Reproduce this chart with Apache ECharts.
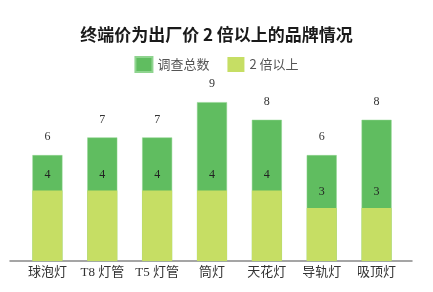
<!DOCTYPE html>
<html><head><meta charset="utf-8">
<script src="https://cdn.jsdelivr.net/npm/echarts@6/dist/echarts.min.js"></script>
<style>html,body{margin:0;padding:0;background:#fff}#c{width:433px;height:292px}</style>
</head><body><div id="c"></div>
<script>
var categories = ['球泡灯', 'T8 灯管', 'T5 灯管', '筒灯', '天花灯', '导轨灯', '吸顶灯'];
var totalValues = [6, 7, 7, 9, 8, 6, 8];
var doubleValues = [4, 4, 4, 4, 4, 3, 3];
var seriesNames = ['调查总数', '2 倍以上'];

var chart = echarts.init(document.getElementById('c'));
var serif = "'Liberation Serif','DejaVu Serif','Noto Sans CJK SC',serif";
chart.setOption({
  animation: false,
  title: {
    text: '终端价为出厂价 2 倍以上的品牌情况',
    left: 'center', top: 21,
    textStyle: {fontSize: 17, fontWeight: 'bold', color: '#1a1a1a', fontFamily: "'Noto Sans CJK SC',sans-serif"}
  },
  legend: {
    top: 51, left: 'center',
    itemWidth: 17, itemHeight: 15, itemGap: 18,
    icon: 'rect',
    textStyle: {fontSize: 13, color: '#555', fontFamily: "'Noto Sans CJK SC',sans-serif"},
    data: seriesNames
  },
  grid: [
    {left: 20, right: 29, top: 84.5, bottom: 31},
    {left: 10, right: 21, top: 84.5, bottom: 31}
  ],
  xAxis: [
    {
      type: 'category', data: categories, gridIndex: 0,
      axisTick: {show: false},
      axisLine: {show: false},
      axisLabel: {interval: 0, fontSize: 13, color: '#333', margin: 5, fontFamily: serif}
    },
    {
      type: 'value', gridIndex: 1, min: 0, max: 1,
      axisTick: {show: false}, axisLabel: {show: false}, splitLine: {show: false},
      axisLine: {show: true, lineStyle: {color: '#888', width: 1.5}}
    }
  ],
  yAxis: [
    {type: 'value', min: 0, max: 10, show: false, splitLine: {show: false}, gridIndex: 0},
    {type: 'value', min: 0, max: 1, show: false, splitLine: {show: false}, gridIndex: 1}
  ],
  series: [
    {
      name: seriesNames[0], type: 'bar', data: totalValues, barWidth: 30, z: 3,
      itemStyle: {color: '#60BD60', borderColor: '#8fd48f', borderWidth: 0.5},
      label: {show: true, position: 'top', distance: 12, fontSize: 12, color: '#333', fontFamily: serif}
    },
    {
      name: seriesNames[1], type: 'bar', data: doubleValues, barWidth: 30, barGap: '-100%', z: 3,
      itemStyle: {color: '#C6DE64'},
      label: {show: true, position: 'top', distance: 10, fontSize: 12, color: '#222', fontFamily: serif}
    }
  ]
});
</script></body></html>
